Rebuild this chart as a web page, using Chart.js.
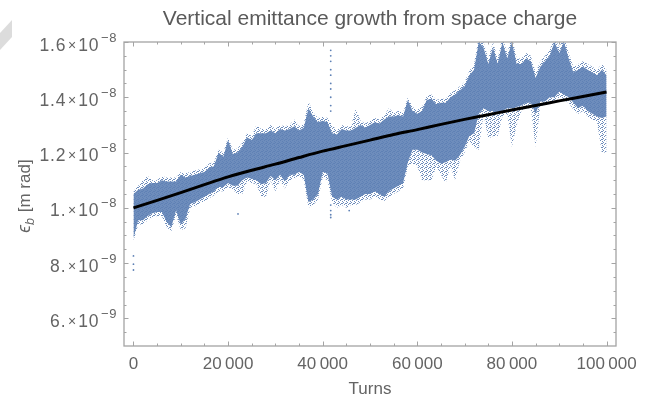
<!DOCTYPE html>
<html>
<head>
<meta charset="utf-8">
<script src="https://cdn.jsdelivr.net/npm/chart.js@4.4.1/dist/chart.umd.min.js"></script>
<style>
  html, body { margin: 0; padding: 0; background: #fff; }
  #wrap { position: relative; width: 659px; height: 398px; }
  #fold { position: absolute; left: 0; top: 0; width: 14px; height: 52px; background: #dcdcdc;
          clip-path: polygon(0 33px, 12px 20px, 12px 37px, 0 50px); }
</style>
</head>
<body>
<div id="wrap">
  <canvas id="emitChart" width="659" height="398"></canvas>
  <div id="fold"></div>
</div>
<script>
// turns, in thousands (one bin per 1000 turns)
const binK = [0,1,2,3,4,5,6,7,8,9,10,11,12,13,14,15,16,17,18,19,20,21,22,23,24,25,26,27,28,29,30,
  31,32,33,34,35,36,37,38,39,40,41,42,43,44,45,46,47,48,49,50,51,52,53,54,55,56,57,58,59,60,
  61,62,63,64,65,66,67,68,69,70,71,72,73,74,75,76,77,78,79,80,81,82,83,84,85,86,87,88,89,90,
  91,92,93,94,95,96,97,98,99,100];

// emittance in units of 1e-8 m rad, read off the scatter cloud
// dense part of the cloud
const coreHigh = [1.05,1.065,1.07,1.085,1.09,1.09,1.10,1.095,1.095,1.095,1.12,1.11,1.115,1.12,1.125,1.13,1.145,1.15,1.20,1.185,
  1.245,1.195,1.20,1.22,1.255,1.245,1.27,1.27,1.27,1.28,1.27,1.285,1.28,1.285,1.295,1.28,1.29,1.36,1.33,1.31,
  1.315,1.31,1.27,1.265,1.285,1.28,1.28,1.29,1.30,1.29,1.30,1.31,1.305,1.32,1.33,1.33,1.335,1.33,1.39,1.35,
  1.34,1.35,1.39,1.395,1.375,1.38,1.38,1.40,1.41,1.425,1.44,1.48,1.50,1.60,1.58,1.52,1.58,1.52,1.60,1.54,
  1.60,1.52,1.52,1.54,1.53,1.47,1.51,1.53,1.55,1.60,1.56,1.60,1.54,1.49,1.50,1.51,1.50,1.49,1.48,1.50,1.48];
const coreLow = [0.89,0.955,0.955,0.97,0.98,0.985,0.985,0.95,0.93,0.99,0.94,0.96,1.015,1.02,1.03,1.04,1.05,1.06,1.075,1.075,
  1.09,1.08,1.08,1.10,1.11,1.105,1.10,1.085,1.09,1.115,1.10,1.12,1.095,1.12,1.12,1.13,1.12,1.02,1.03,1.05,
  1.13,1.125,1.04,1.03,1.04,1.03,1.03,1.03,1.04,1.05,1.05,1.06,1.05,1.04,1.06,1.07,1.08,1.09,1.165,1.21,
  1.21,1.20,1.195,1.19,1.17,1.16,1.165,1.175,1.17,1.19,1.22,1.26,1.27,1.34,1.36,1.35,1.35,1.34,1.35,1.36,
  1.36,1.365,1.37,1.38,1.38,1.34,1.385,1.385,1.40,1.40,1.42,1.41,1.40,1.38,1.36,1.37,1.35,1.34,1.33,1.325,1.33];
// sparse outer fringe of the cloud
const fringeHigh = [1.06,1.08,1.10,1.115,1.10,1.10,1.115,1.11,1.11,1.11,1.13,1.125,1.13,1.135,1.14,1.145,1.16,1.165,1.21,1.20,
  1.255,1.21,1.215,1.235,1.27,1.26,1.30,1.285,1.285,1.30,1.285,1.30,1.295,1.30,1.32,1.295,1.305,1.385,1.345,1.325,
  1.33,1.325,1.30,1.28,1.30,1.295,1.295,1.36,1.315,1.305,1.315,1.325,1.32,1.335,1.36,1.345,1.35,1.345,1.40,1.365,
  1.355,1.365,1.405,1.41,1.39,1.395,1.395,1.415,1.425,1.44,1.455,1.495,1.52,1.62,1.60,1.54,1.60,1.54,1.62,1.56,
  1.62,1.54,1.54,1.56,1.55,1.49,1.53,1.55,1.57,1.62,1.58,1.62,1.56,1.51,1.52,1.53,1.52,1.51,1.50,1.52,1.50];
const fringeLow = [0.88,0.94,0.94,0.955,0.965,0.97,0.97,0.93,0.915,0.975,0.92,0.925,1.0,1.005,1.015,1.025,1.035,1.045,1.06,1.06,
  1.075,1.065,1.05,1.05,1.095,1.09,1.085,1.04,1.04,1.10,1.06,1.10,1.07,1.10,1.105,1.115,1.10,1.00,1.01,1.03,
  1.11,1.10,1.02,1.00,1.01,1.00,1.01,1.01,1.02,1.03,1.03,1.04,1.03,1.025,1.04,1.05,1.06,1.07,1.15,1.16,
  1.15,1.10,1.10,1.10,1.15,1.12,1.09,1.15,1.10,1.17,1.20,1.24,1.22,1.21,1.34,1.25,1.26,1.26,1.33,1.34,
  1.22,1.30,1.35,1.36,1.36,1.22,1.37,1.37,1.38,1.38,1.40,1.39,1.38,1.355,1.34,1.35,1.33,1.32,1.31,1.20,1.20];

// isolated points outside the cloud
const strayTurns = [0,0,0,22100,41700,41700,41700,41700,41700,41700,41700,41700,41700,41700,41700,41700,41700,41700,45600];
const strayValue = [0.826,0.796,0.775,0.978,1.57,1.55,1.53,1.50,1.48,1.45,1.43,1.40,1.37,1.35,1.01,0.99,0.975,0.965,0.99];

// fitted growth curve
const fitTurns = [0,5000,10000,15000,20000,25000,30000,35000,40000,45000,50000,55000,60000,65000,70000,75000,80000,85000,90000,95000,100000];
const fitValue = [1.0,1.027,1.055,1.084,1.112,1.136,1.158,1.182,1.205,1.225,1.245,1.265,1.283,1.302,1.32,1.337,1.354,1.37,1.387,1.403,1.419];

// ticks
const xTicks = [0,20000,40000,60000,80000,100000];
const xTickLabels = ["0","20\u2009000","40\u2009000","60\u2009000","80\u2009000","100\u2009000"];
const yTicks = [0.6,0.8,1.0,1.2,1.4,1.6];
const yTickMant = ["6.","8.","1.","1.2","1.4","1.6"];
const yTickExp = ["\u22129","\u22129","\u22128","\u22128","\u22128","\u22128"];

const blue = "#5e81b5";
const frameGray = "#a4a4a4";
const textGray = "#646464";
const FONT = "'Liberation Sans', Arial, 'DejaVu Sans', sans-serif";

const pts = (arr) => arr.map((v, i) => ({ x: binK[i] * 1000, y: v }));

const canvas = document.getElementById("emitChart");
const ctx = canvas.getContext("2d");

// dotted fill so the fringe reads like loose points
const tile = document.createElement("canvas");
tile.width = 4; tile.height = 4;
const tctx = tile.getContext("2d");
tctx.fillStyle = "rgba(94,129,181,0.9)";
[[0, 0], [2, 1], [1, 3], [3, 2], [2, 3]].forEach(([a, b]) => tctx.fillRect(a, b, 1, 1));
const fringeFill = ctx.createPattern(tile, "repeat");

const framePlugin = {
  id: "framePlugin",
  afterDraw(chart) {
    const { ctx, chartArea: a } = chart;
    const x = chart.scales.x, y = chart.scales.y;
    ctx.save();
    ctx.strokeStyle = frameGray;
    ctx.lineWidth = 1.3;
    ctx.strokeRect(a.left, a.top, a.right - a.left, a.bottom - a.top);

    ctx.lineWidth = 1;
    ctx.beginPath();
    // x ticks, bottom and top, pointing inward
    for (let t = 0; t <= 100000; t += 5000) {
      const px = Math.round(x.getPixelForValue(t)) + 0.5;
      const len = t % 20000 === 0 ? 4.5 : 2.5;
      ctx.moveTo(px, a.bottom); ctx.lineTo(px, a.bottom - len);
      ctx.moveTo(px, a.top); ctx.lineTo(px, a.top + len);
    }
    // y ticks, left and right
    for (let k = 11; k <= 32; k++) {
      const v = k * 0.05;
      const py = Math.round(y.getPixelForValue(v)) + 0.5;
      const len = k % 4 === 0 ? 4.5 : 2.5;
      ctx.moveTo(a.left, py); ctx.lineTo(a.left + len, py);
      ctx.moveTo(a.right, py); ctx.lineTo(a.right - len, py);
    }
    ctx.stroke();

    ctx.fillStyle = textGray;
    // x tick labels
    ctx.font = "17px " + FONT;
    ctx.textAlign = "center";
    ctx.textBaseline = "alphabetic";
    xTicks.forEach((t, i) => {
      ctx.fillText(xTickLabels[i], x.getPixelForValue(t), 368.5);
    });

    // y tick labels: mantissa x 10^exp
    ctx.textAlign = "left";
    yTicks.forEach((v, i) => {
      const py = y.getPixelForValue(v);
      const right = 117;
      ctx.letterSpacing = "0.6px";
      ctx.font = "13px " + FONT;
      const wExp = ctx.measureText(yTickExp[i]).width;
      ctx.font = "14px " + FONT;
      const wTimes = ctx.measureText("\u00d7").width;
      ctx.font = "17.5px " + FONT;
      ctx.letterSpacing = "0.9px";
      const wTen = ctx.measureText("10").width;
      const wMant = ctx.measureText(yTickMant[i]).width;
      let cx = right - wExp;
      ctx.letterSpacing = "0.6px";
      ctx.font = "13px " + FONT;
      ctx.fillText(yTickExp[i], cx, py - 0.5);
      cx -= 1.5 + wTen;
      ctx.letterSpacing = "0.9px";
      ctx.font = "17.5px " + FONT;
      ctx.fillText("10", cx, py + 8.5);
      ctx.letterSpacing = "0px";
      ctx.font = "14px " + FONT;
      cx -= 1.5 + wTimes;
      ctx.fillText("\u00d7", cx, py + 7.5);
      cx -= 1.5 + wMant;
      ctx.letterSpacing = "0.9px";
      ctx.font = "17.5px " + FONT;
      ctx.fillText(yTickMant[i], cx, py + 8.5);
    });
    ctx.letterSpacing = "0px";

    // axis titles
    ctx.font = "17px " + FONT;
    ctx.textAlign = "center";
    ctx.fillText("Turns", (a.left + a.right) / 2, 394);

    ctx.save();
    ctx.translate(30, (a.top + a.bottom) / 2 + 2);
    ctx.rotate(-Math.PI / 2);
    ctx.textAlign = "left";
    ctx.font = "italic 17.5px " + FONT;
    const wEps = ctx.measureText("\u03f5").width;
    ctx.font = "italic 12.5px " + FONT;
    const wSub = ctx.measureText("b").width;
    ctx.font = "17px " + FONT;
    const wRest = ctx.measureText(" [m rad]").width;
    let lx = -(wEps + wSub + 1 + wRest) / 2;
    ctx.font = "italic 17.5px " + FONT;
    ctx.fillText("\u03f5", lx, 0);
    lx += wEps;
    ctx.font = "italic 12.5px " + FONT;
    ctx.fillText("b", lx, 4);
    lx += wSub + 1;
    ctx.font = "17px " + FONT;
    ctx.fillText(" [m rad]", lx, 0);
    ctx.restore();

    // title
    ctx.fillStyle = "#5a5a5a";
    ctx.font = "21px " + FONT;
    ctx.textAlign = "center";
    ctx.fillText("Vertical emittance growth from space charge", (a.left + a.right) / 2, 24.5);
    ctx.restore();
  }
};

new Chart(ctx, {
  type: "line",
  data: {
    datasets: [
      {
        data: fitTurns.map((t, i) => ({ x: t, y: fitValue[i] })),
        borderColor: "#000",
        borderWidth: 3,
        pointRadius: 0,
        tension: 0.4,
        cubicInterpolationMode: "monotone",
        fill: false,
        order: 0,
      },
      {
        type: "scatter",
        data: strayTurns.map((t, i) => ({ x: t, y: strayValue[i] })),
        backgroundColor: blue,
        borderWidth: 0,
        pointRadius: 0.9,
        order: 1,
      },
      {
        data: pts(coreHigh),
        borderWidth: 0,
        borderColor: "rgba(0,0,0,0)",
        pointRadius: 0,
        fill: false,
        order: 2,
      },
      {
        data: pts(coreLow),
        borderWidth: 0,
        borderColor: "rgba(0,0,0,0)",
        pointRadius: 0,
        fill: "-1",
        backgroundColor: "rgba(94,129,181,0.9)",
        order: 2,
      },
      {
        data: pts(fringeHigh),
        borderWidth: 0,
        borderColor: "rgba(0,0,0,0)",
        pointRadius: 0,
        fill: false,
        order: 3,
      },
      {
        data: pts(fringeLow),
        borderWidth: 0,
        borderColor: "rgba(0,0,0,0)",
        pointRadius: 0,
        fill: "-1",
        backgroundColor: fringeFill,
        order: 3,
      },
    ],
  },
  options: {
    responsive: false,
    animation: false,
    layout: { padding: { left: 124, top: 42, right: 43, bottom: 52 } },
    scales: {
      x: { type: "linear", min: -2000, max: 102000, display: false },
      y: { type: "linear", min: 0.5, max: 1.6, display: false },
    },
    plugins: {
      legend: { display: false },
      tooltip: { enabled: false },
    },
  },
  plugins: [framePlugin],
});
</script>
</body>
</html>
